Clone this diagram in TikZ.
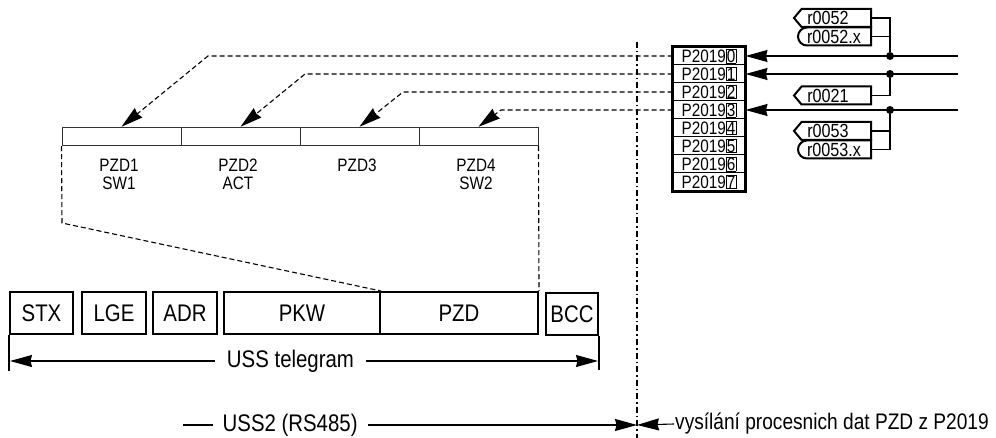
\documentclass[tikz,border=0pt]{standalone}
\usepackage{fontspec}
\setmainfont{Liberation Sans}[FakeStretch=0.85]
\usetikzlibrary{positioning, arrows.meta, shapes.symbols, shapes.misc, fit}

\newcommand{\idxbox}[1]{{\setlength{\fboxsep}{0.2pt}\setlength{\fboxrule}{0.8pt}\fbox{#1}}}

\begin{document}
\begin{tikzpicture}[
  x=1pt, y=-1pt,
  fld/.style={draw=black!80, line width=1pt, minimum width=119pt,
              minimum height=18.5pt, inner sep=0pt},
  fldlbl/.style={align=center, font=\fontsize{18}{18}\selectfont},
  tbox/.style={draw, line width=2pt, minimum height=42pt, inner sep=0pt,
               font=\fontsize{24}{26}\selectfont},
  prow/.style={draw, line width=1pt, minimum width=72pt, minimum height=18pt,
               inner sep=0pt, font=\fontsize{18}{18}\selectfont},
  rsig/.style={signal, signal to=west, signal pointer angle=100, draw,
               line width=2pt, minimum width=77pt, minimum height=18pt,
               inner ysep=0pt, inner xsep=2pt, text width=58pt, align=left,
               font=\fontsize{19}{18}\selectfont},
  rval/.style={rounded rectangle, rounded rectangle right arc=none, draw,
               line width=2pt, minimum width=77pt, minimum height=18pt,
               inner ysep=0pt, inner xsep=2pt, text width=58pt, align=left,
               font=\fontsize{19}{18}\selectfont},
  tip/.style={-{Stealth[length=22pt, width=12pt, inset=1.5pt]}},
  link/.style={line width=1.1pt},
  dline/.style={line width=1.1pt, dash pattern=on 5pt off 3pt},
  dashdot/.style={line width=1.1pt, dash pattern=on 6pt off 3pt on 1.5pt off 3pt},
  dot/.style={circle, fill, inner sep=0pt, minimum size=8pt},
  big/.style={font=\fontsize{24}{26}\selectfont},
]
  \useasboundingbox (0,0) rectangle (996,438);

  % PZD words of the telegram
  \foreach \i in {1,...,4} {
    \node[fld] (pzd\i) at ({2.5+119*\i}, 136.5) {};
  }
  \node[fldlbl] (l1) at (119, 174) {PZD1\\SW1};
  \node[fldlbl] (l2) at (238, 174) {PZD2\\ACT};
  \node[fldlbl, anchor=north] (l3) at (357, 155) {PZD3};
  \node[fldlbl] (l4) at (476, 174) {PZD4\\SW2};

  % P2019 index column
  \foreach \i in {0,...,7} {
    \node[prow] (p\i) at (709, {56+18*\i}) {P2019\idxbox{\i}};
  }
  \node[draw, line width=2.4pt, inner sep=0pt, fit=(p0)(p7)] (pcol) {};

  % signal sources
  \node[rsig, anchor=east] (r52)  at (872, 18)    {r0052};
  \node[rval, anchor=east] (r52x) at (872, 36.5)  {r0052.x};
  \node[rsig, anchor=east] (r21)  at (872, 95.5)  {r0021};
  \node[rsig, anchor=east] (r53)  at (872, 131)   {r0053};
  \node[rval, anchor=east] (r53x) at (872, 149.5) {r0053.x};

  \node[dot] (d0) at (890, 56) {};
  \node[dot] (d1) at (890, 74) {};
  \node[dot] (d3) at (890, 110) {};
  \coordinate (in0) at (958, 56);
  \coordinate (in1) at (958, 74);
  \coordinate (in3) at (958, 110);

  \draw[link] (r52.east) -| (d0);
  \draw[link] (r52x.east) -| (d0);
  \draw[link] (r21.east) -| (d1);
  \draw[link] (r53.east) -| (d3);
  \draw[link] (r53x.east) -| (d3);
  \draw[link, tip] (in0) -- (p0.east);
  \draw[link, tip] (in1) -- (p1.east);
  \draw[link, tip] (in3) -- (p3.east);

  % P2019 -> PZD words
  \coordinate (b0) at (208, 56);
  \coordinate (b1) at (305, 74);
  \coordinate (b2) at (403, 92);
  \coordinate (b3) at (501, 110);
  \foreach \i/\j in {0/1, 1/2, 2/3, 3/4} {
    \draw[dline, tip] (p\i.west) -- (b\i) -- (pzd\j.north);
  }

  % USS telegram frame
  \node[tbox, minimum width=63pt]  (stx) at (41.5, 313) {STX};
  \node[tbox, minimum width=64pt]  (lge) at (114, 313)  {LGE};
  \node[tbox, minimum width=64pt]  (adr) at (185, 313)  {ADR};
  \node[tbox, minimum width=156pt] (pkw) at (302, 313)  {PKW};
  \node[tbox, minimum width=158pt] (pzd) at (459, 313)  {PZD};
  \node[tbox, minimum width=52pt]  (bcc) at (572, 314)  {BCC};

  \coordinate (kink) at (62, 223);
  \draw[dline] (pzd1.south west) -- (kink) -- (pkw.north east);
  \draw[dline] (pzd4.south east) -- (pzd.north east);

  \coordinate (tl) at (10, 361);
  \coordinate (tr) at (598, 361);
  \draw[link] (stx.south west) -- ++(0, 36);
  \draw[link] (bcc.south east) -- ++(0, 34);
  \draw[link, {Stealth[length=22pt, width=12pt, inset=1.5pt]}-{Stealth[length=22pt, width=12pt, inset=1.5pt]}]
    (tl) -- node[pos=0.477, fill=white, big, inner xsep=12pt] (tglbl) {USS telegram} (tr);

  % separation line and bus labels
  \coordinate (sept) at (637, 42);
  \coordinate (sepb) at (637, 438);
  \draw[dashdot] (sept) -- (sepb);

  \coordinate (busl) at (183, 425);
  \coordinate (sep) at (637, 425);
  \draw[link, tip] (busl) -- node[pos=0.236, fill=white, big, inner xsep=10pt] (buslbl) {USS2 (RS485)} (sep);
  \node[anchor=west, inner xsep=1pt, font=\fontsize{22.5}{24}\selectfont] (txt) at (674, 424) {vysílání procesnich dat PZD z P2019};
  \draw[link, tip] (txt.west) -- (sep);
\end{tikzpicture}
\end{document}
